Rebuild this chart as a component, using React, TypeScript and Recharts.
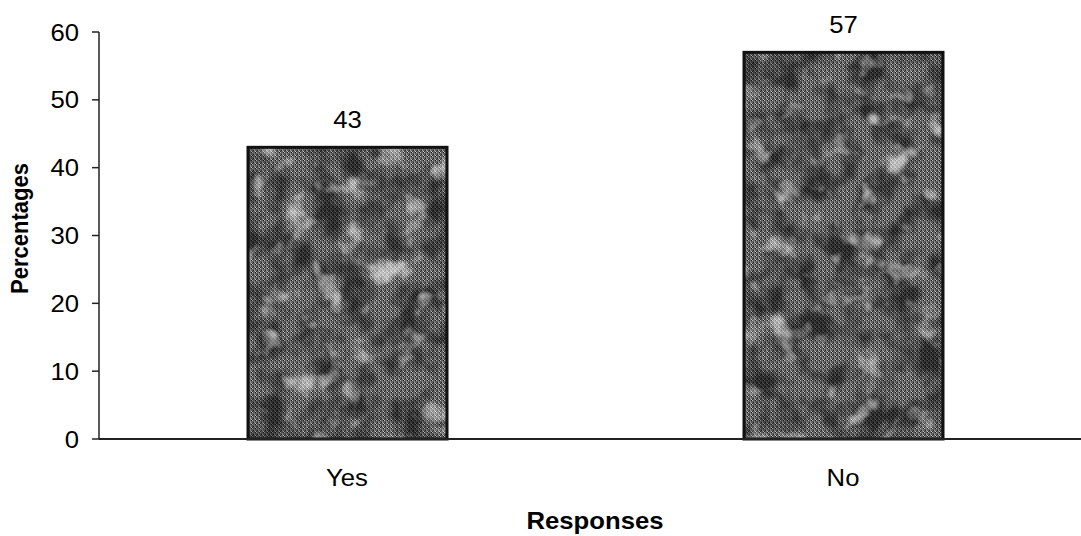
import React from "react";
import { BarChart, Bar, XAxis, YAxis, LabelList } from "recharts";

const categories = ["Yes", "No"];
const percentages = [43, 57];
const yTicks = [0, 10, 20, 30, 40, 50, 60];

const data = categories.map((c, i) => ({ category: c, value: percentages[i], pos: i + 0.5 }));

const FONT = "'Liberation Sans', Arial, sans-serif";
const SX = 1.07;

const YTick = (props: any) => {
  const { x, y, payload } = props;
  return (
    <text
      transform={`translate(${x}, ${y}) scale(${SX}, 1)`}
      x={0}
      y={0}
      dy="0.36em"
      textAnchor="end"
      fontFamily={FONT}
      fontSize={24}
      fill="#000"
    >
      {payload.value}
    </text>
  );
};

const XTick = (props: any) => {
  const { x, payload } = props;
  return (
    <text
      transform={`translate(${x}, 486) scale(${SX}, 1)`}
      x={0}
      y={0}
      textAnchor="middle"
      fontFamily={FONT}
      fontSize={24}
      fill="#000"
    >
      {payload.value}
    </text>
  );
};

const ValueLabel = (props: any) => {
  const { x, y, width, value } = props;
  return (
    <text
      transform={`translate(${x + width / 2}, ${y - 19}) scale(${SX}, 1)`}
      x={0}
      y={0}
      textAnchor="middle"
      fontFamily={FONT}
      fontSize={24}
      fill="#000"
    >
      {value}
    </text>
  );
};

const TexturedBar = (props: any) => {
  const { x, y, width, height, index } = props;
  return (
    <g>
      <rect x={x} y={y} width={width} height={height} fill="url(#texture)" />
      <rect x={x} y={y} width={width} height={height} fill="#000" filter={`url(#dark${index})`} opacity={0.55} />
      <rect x={x} y={y} width={width} height={height} fill="#fff" filter={`url(#light${index})`} opacity={0.6} />
      <rect x={x} y={y} width={width} height={height} fill="none" stroke="#111" strokeWidth={3} />
    </g>
  );
};

const mottle = (id: string, seed: number, color: string, slope: number, intercept: number) => (
  <filter id={id} x="0" y="0" width="1" height="1" filterUnits="objectBoundingBox">
    <feTurbulence type="fractalNoise" baseFrequency="0.035" numOctaves={3} seed={seed} result="n" />
    <feColorMatrix
      in="n"
      type="matrix"
      values={`0 0 0 0 ${color} 0 0 0 0 ${color} 0 0 0 0 ${color} ${slope} 0 0 0 ${intercept}`}
    />
  </filter>
);

export default function App() {
  return (
    <div style={{ position: "absolute", left: 0, top: 0, width: 1081, height: 536, overflow: "hidden", background: "#fff" }}>
      <BarChart
        width={1100}
        height={536}
        data={data}
        margin={{ top: 32, right: 9, bottom: 0, left: 0 }}
        barCategoryGap={0}
      >
        <defs>
          <pattern id="texture" width="4" height="4" patternUnits="userSpaceOnUse">
            <rect width="4" height="4" fill="#5e5e5e" />
            <rect x="0" y="0" width="1" height="1" fill="#b8b8b8" />
            <rect x="2" y="2" width="1" height="1" fill="#a0a0a0" />
            <rect x="1" y="2" width="1" height="1" fill="#222" />
            <rect x="3" y="0" width="1" height="1" fill="#1e1e1e" />
            <rect x="2" y="1" width="1" height="1" fill="#8e8e8e" />
            <rect x="0" y="3" width="1" height="1" fill="#333" />
            <rect x="3" y="3" width="1" height="1" fill="#c8c8c8" />
          </pattern>
          {mottle("dark0", 4, "0", 3, -1.2)}
          {mottle("light0", 9, "1", 4, -2.3)}
          {mottle("dark1", 12, "0", 3, -1.2)}
          {mottle("light1", 21, "1", 4, -2.3)}
        </defs>
        <XAxis
          xAxisId="ticks"
          type="number"
          dataKey="pos"
          domain={[0, 2]}
          ticks={[0, 1, 2]}
          height={0}
          tick={false}
          tickSize={8}
          axisLine={false}
          tickLine={{ stroke: "#222", strokeWidth: 1.5 }}
        />
        <XAxis
          xAxisId="cat"
          dataKey="category"
          height={97}
          tickLine={false}
          axisLine={{ stroke: "#222", strokeWidth: 2 }}
          tick={<XTick />}
          label={{
            content: (props: any) => {
              const vb = props.viewBox;
              return (
                <text
                  transform={`translate(${vb.x + vb.width / 2}, 529) scale(${SX}, 1)`}
                  x={0}
                  y={0}
                  textAnchor="middle"
                  fontFamily={FONT}
                  fontSize={24}
                  fontWeight="bold"
                  fill="#000"
                >
                  Responses
                </text>
              );
            },
          }}
        />
        <YAxis
          width={99}
          domain={[0, 60]}
          ticks={yTicks}
          interval={0}
          tickSize={7}
          tickMargin={13}
          axisLine={{ stroke: "#222", strokeWidth: 1.5 }}
          tickLine={{ stroke: "#222", strokeWidth: 1.5 }}
          tick={<YTick />}
          label={{
            content: (props: any) => {
              const vb = props.viewBox;
              const cx = 28;
              const cy = vb.y + vb.height / 2 - 7;
              return (
                <text
                  transform={`translate(${cx}, ${cy}) scale(${SX}, 1) rotate(-90)`}
                  x={0}
                  y={0}
                  textAnchor="middle"
                  fontFamily={FONT}
                  fontSize={22}
                  fontWeight="bold"
                  fill="#000"
                >
                  Percentages
                </text>
              );
            },
          }}
        />
        <Bar
          xAxisId="cat"
          dataKey="value"
          barSize={199}
          shape={<TexturedBar />}
          isAnimationActive={false}
        >
          <LabelList dataKey="value" content={<ValueLabel />} />
        </Bar>
      </BarChart>
    </div>
  );
}
